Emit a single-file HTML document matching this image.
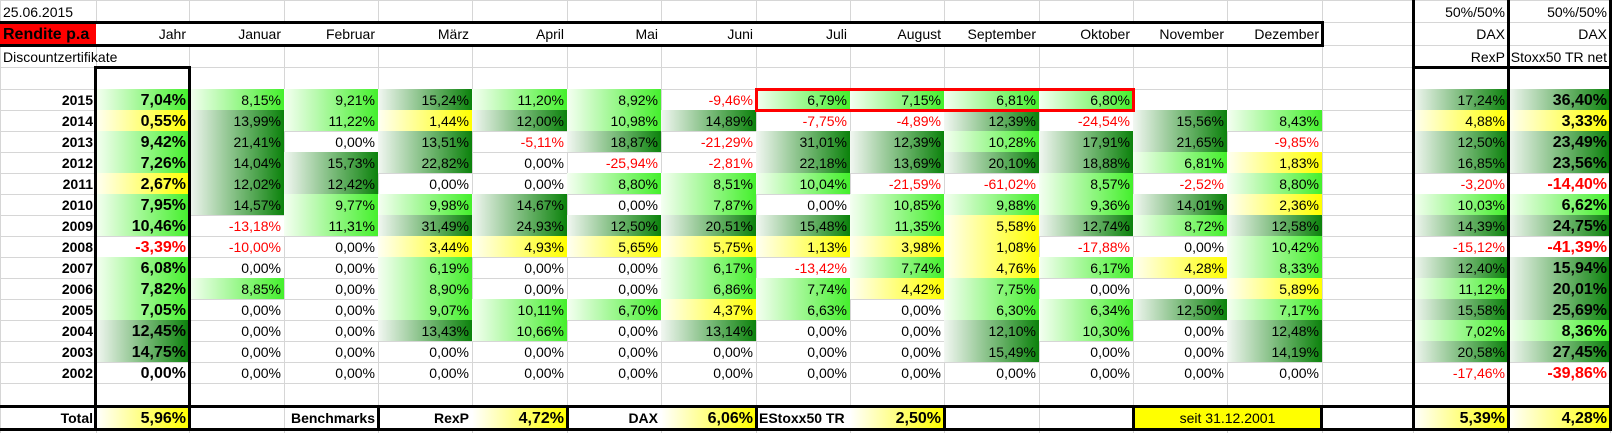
<!DOCTYPE html>
<html><head><meta charset="utf-8">
<style>
html,body{margin:0;padding:0;background:#fff;}
#sheet{position:relative;width:1612px;height:433px;overflow:hidden;font-family:"Liberation Sans",Arial,sans-serif;font-size:14px;color:#000;}
.c{position:absolute;box-sizing:border-box;white-space:nowrap;overflow:hidden;text-align:right;padding-right:3px;}
.g{position:absolute;background:#d6d6d6;}
.k{position:absolute;background:#000;}
</style></head>
<body>
<div id="sheet"></div>
<script>
const years = [2015,2014,2013,2012,2011,2010,2009,2008,2007,2006,2005,2004,2003,2002];
const monthNames = ["Jahr","Januar","Februar","März","April","Mai","Juni","Juli","August","September","Oktober","November","Dezember"];
const jahr = [7.04,0.55,9.42,7.26,2.67,7.95,10.46,-3.39,6.08,7.82,7.05,12.45,14.75,0.00];
const jan = [8.15,13.99,21.41,14.04,12.02,14.57,-13.18,-10.00,0,8.85,0,0,0,0];
const feb = [9.21,11.22,0,15.73,12.42,9.77,11.31,0,0,0,0,0,0,0];
const mar = [15.24,1.44,13.51,22.82,0,9.98,31.49,3.44,6.19,8.90,9.07,13.43,0,0];
const apr = [11.20,12.00,-5.11,0,0,14.67,24.93,4.93,0,0,10.11,10.66,0,0];
const mai = [8.92,10.98,18.87,-25.94,8.80,0,12.50,5.65,0,0,6.70,0,0,0];
const jun = [-9.46,14.89,-21.29,-2.81,8.51,7.87,20.51,5.75,6.17,6.86,4.37,13.14,0,0];
const jul = [6.79,-7.75,31.01,22.18,10.04,0,15.48,1.13,-13.42,7.74,6.63,0,0,0];
const aug = [7.15,-4.89,12.39,13.69,-21.59,10.85,11.35,3.98,7.74,4.42,0,0,0,0];
const sep = [6.81,12.39,10.28,20.10,-61.02,9.88,5.58,1.08,4.76,7.75,6.30,12.10,15.49,0];
const okt = [6.80,-24.54,17.91,18.88,8.57,9.36,12.74,-17.88,6.17,0,6.34,10.30,0,0];
const nov = [null,15.56,21.65,6.81,-2.52,14.01,8.72,0,4.28,0,12.50,0,0,0];
const dez = [null,8.43,-9.85,1.83,8.80,2.36,12.58,10.42,8.33,5.89,7.17,12.48,14.19,0];
const mixRex = [17.24,4.88,12.50,16.85,-3.20,10.03,14.39,-15.12,12.40,11.12,15.58,7.02,20.58,-17.46];
const mixStoxx = [36.40,3.33,23.49,23.56,-14.40,6.62,24.75,-41.39,15.94,20.01,25.69,8.36,27.45,-39.86];
const totalJahr = 5.96, totalRexP = 4.72, totalDax = 6.06, totalStoxx = 2.50, totalMixRex = 5.39, totalMixStoxx = 4.28;

const S = document.getElementById('sheet');
const colL = [0,96,189,284,378,472,567,661,756,850,944,1039,1133,1227,1322,1413,1508,1610,1612];
const rowT = [0,22,45,67,89];
for(let i=1;i<=14;i++) rowT.push(89+21*i);
rowT.push(406,429,433);
const dataTop = i => 89+21*i;
function fmt(v){return v.toFixed(2).replace('.',',')+'%';}
function fill(v,thr){
  if(v===null||v<=0) return '';
  const dk = thr||12;
  if(v>=dk) return 'linear-gradient(to right,#f2f7f2,#0b820b)';
  if(v>=6.0) return 'linear-gradient(to right,#f5fff2,#44f02c)';
  return 'linear-gradient(to right,#fffff2,#ffff00)';
}
function cell(name,x1,x2,y1,y2,text,opts){
  opts=opts||{};
  const d=document.createElement('div');
  d.className='c';
  
  
  d.style.left=x1+'px';d.style.width=(x2-x1)+'px';d.style.top=y1+'px';d.style.height=(y2-y1)+'px';
  d.style.lineHeight=(y2-y1+2)+'px';
  if(opts.bg) d.style.background=opts.bg;
  if(opts.bold) d.style.fontWeight='bold';
  if(opts.size) d.style.fontSize=opts.size+'px';
  if(opts.color) d.style.color=opts.color;
  if(opts.align) {d.style.textAlign=opts.align;d.style.paddingLeft='3px';}
  d.textContent=text||'';
  S.appendChild(d);
  return d;
}
// gridlines
for(const x of colL){const g=document.createElement('div');g.className='g';g.style.left=x+'px';g.style.top='0';g.style.width='1px';g.style.height='433px';S.appendChild(g);}
for(const y of rowT){const g=document.createElement('div');g.className='g';g.style.left='0';g.style.top=y+'px';g.style.width='1612px';g.style.height='1px';S.appendChild(g);}

// row 1 / 3
cell('date-label',0,189,0,22,'25.06.2015',{align:'left'});
cell('section-title',0,189,45,67,'Discountzertifikate',{align:'left'});
// header
cell('rendite-header',0,96,22,45,'Rendite p.a',{bg:'#ff0000',bold:true,size:16,align:'left'});
for(let j=0;j<13;j++) cell('header-'+monthNames[j].toLowerCase(),colL[j+1],colL[j+2],22,45,monthNames[j],{bg:'#fff'});
cell('mix-rex-header-1',1413,1508,0,22,'50%/50%');
cell('mix-rex-header-2',1413,1508,22,45,'DAX');
cell('mix-rex-header-3',1413,1508,45,67,'RexP');
cell('mix-stoxx-header-1',1508,1610,0,22,'50%/50%');
cell('mix-stoxx-header-2',1508,1610,22,45,'DAX');
cell('mix-stoxx-header-3',1508,1610,45,67,'Stoxx50 TR net');

const cols = [jahr,jan,feb,mar,apr,mai,jun,jul,aug,sep,okt,nov,dez];
for(let i=0;i<years.length;i++){
  const y1=dataTop(i), y2=y1+21;
  cell('year-'+years[i],0,96,y1,y2,String(years[i]),{bold:true});
  for(let j=0;j<13;j++){
    const v=cols[j][i];
    if(v===null) continue;
    const bold=j===0;
    cell((j===0?'year-return-':'month-return-')+years[i]+'-'+j,colL[j+1],colL[j+2],y1,y2,fmt(v),
      {bg:fill(v),bold:bold,size:bold?16:14,color:v<0?'#ff0000':'#000'});
  }
  const a=mixRex[i], b=mixStoxx[i];
  cell('mix-rex-'+years[i],1413,1508,y1,y2,fmt(a),{bg:fill(a),color:a<0?'#ff0000':'#000'});
  cell('mix-stoxx-'+years[i],1508,1610,y1,y2,fmt(b),{bg:fill(b,15),bold:true,size:16,color:b<0?'#ff0000':'#000'});
}
// totals
const yg='linear-gradient(to right,#fff,#ffff00)';
cell('total-label',0,96,406,429,'Total',{bold:true});
cell('total-jahr',96,189,406,429,fmt(totalJahr),{bold:true,size:16,bg:yg});
cell('benchmarks-label',284,378,406,429,'Benchmarks',{bold:true});
cell('rexp-label',378,472,406,429,'RexP',{bold:true});
cell('total-rexp',472,567,406,429,fmt(totalRexP),{bold:true,size:16,bg:yg});
cell('dax-label',567,661,406,429,'DAX',{bold:true});
cell('total-dax',661,756,406,429,fmt(totalDax),{bold:true,size:16,bg:yg});
cell('estoxx-label',756,850,406,429,'EStoxx50 TR',{bold:true,align:'left'});
cell('total-estoxx',850,944,406,429,fmt(totalStoxx),{bold:true,size:16,bg:yg});
const s=cell('since-label',1133,1322,406,429,'seit 31.12.2001',{bg:'#ffff00',align:'center'});
cell('total-mix-rex',1413,1508,406,429,fmt(totalMixRex),{bold:true,size:16,bg:yg});
cell('total-mix-stoxx',1508,1610,406,429,fmt(totalMixStoxx),{bold:true,size:16,bg:yg});

// thick borders
function K(name,x,y,w,h,col){const d=document.createElement('div');d.className='k';
  
  
  d.style.left=x+'px';d.style.top=y+'px';d.style.width=w+'px';d.style.height=h+'px';if(col)d.style.background=col;S.appendChild(d);}
K('header-border-top',0,21,1324,3);K('header-border-bottom',0,44,1324,3);K('header-border-right',1321,21,3,26);
K('jahr-box-top',94,66,97,3);K('jahr-box-left',94,66,3,364);K('jahr-box-right',188,66,3,364);
K('total-border-top',0,405,1612,3);K('total-border-bottom',0,428,1612,3);
for(const x of [378,567,756,944,1133,1321]) K('total-divider',x-1,405,3,26);
K('mix-box-left',1412,0,3,431);K('mix-box-mid',1507,0,3,431);K('mix-box-right',1609,0,3,431);
K('mix-box-top',1412,66,200,3);
// red highlight box 2015 Jul-Okt
K('highlight-top',755,88,380,3,'#ff0000');K('highlight-bottom',755,109,380,3,'#ff0000');
K('highlight-left',755,88,3,24,'#ff0000');K('highlight-right',1132,88,3,24,'#ff0000');
</script>
</body></html>
